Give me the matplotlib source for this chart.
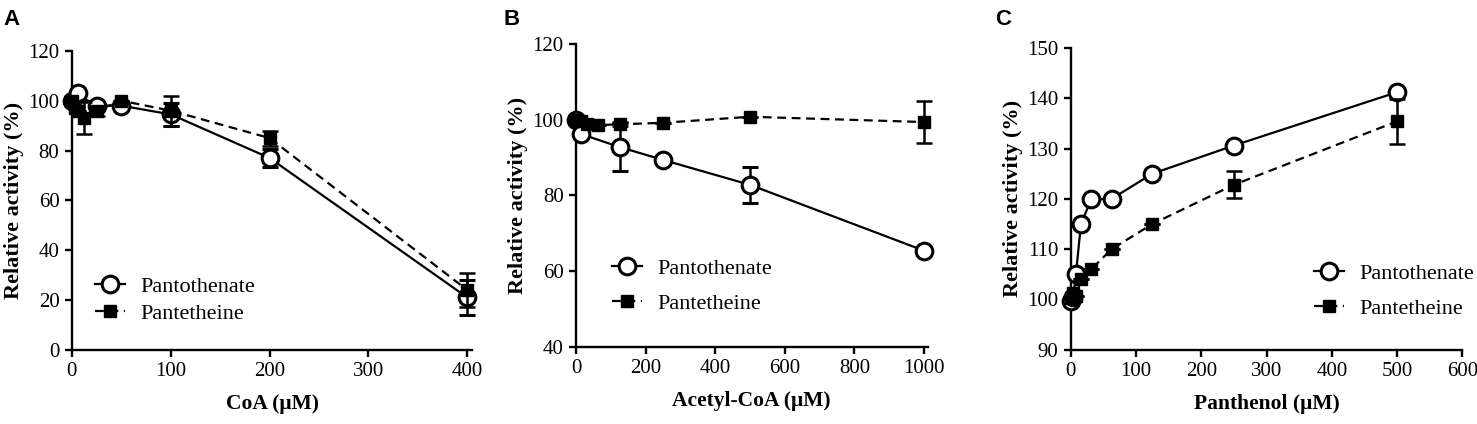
import numpy as np
import matplotlib
matplotlib.use('Agg')
import matplotlib.pyplot as plt
from matplotlib.lines import Line2D

plt.rcParams['font.family'] = 'Liberation Serif'

# ---- panel A: CoA
coa_x = [0, 3.125, 6.25, 12.5, 25, 50, 100, 200, 400]
coa_pantothenate = [100, 99, 103, 97, 98, 98, 94.5, 77, 21]
coa_pantothenate_err = [0, 0, 0, 0, 0, 0, 4.5, 3.5, 7]
coa_pantetheine = [100, 97, 96, 93, 96, 100, 96, 85, 24]
coa_pantetheine_err = [0, 0, 0, 6.5, 2, 0, 6, 3, 7]

# ---- panel B: acetyl-CoA
acoa_x_o = [0, 15.6, 125, 250, 500, 1000]
acoa_pantothenate = [100, 96.2, 92.8, 89.4, 82.8, 65.4]
acoa_pantothenate_err = [0, 0, 6.3, 0, 4.7, 0]
acoa_x_s = [0, 15.6, 31.25, 62.5, 125, 250, 500, 1000]
acoa_pantetheine = [100, 99.6, 99, 98.6, 98.8, 99.2, 100.8, 99.4]
acoa_pantetheine_err = [0, 0, 0, 0, 0.5, 0, 0, 5.6]

# ---- panel C: panthenol
pan_x = [0, 3.9, 7.8, 15.6, 31.25, 62.5, 125, 250, 500]
pan_pantothenate = [99.6, 100.5, 105.1, 115, 119.9, 120, 125, 130.6, 141.2]
pan_pantothenate_err = [0, 0, 0, 0, 0, 0, 0, 0, 0]
pan_pantetheine = [100.3, 101.2, 100.6, 104, 106, 110, 115, 122.8, 135.4]
pan_pantetheine_err = [0, 0, 0, 0, 0, 0, 0, 2.7, 4.4]

panels = [
    dict(letter='A', lx=0.002, rect=[0.0487, 0.175, 0.271, 0.705], xlabel='CoA (\u03bcM)',
         xlim=(0, 405), ylim=(0, 120), xticks=[0, 100, 200, 300, 400],
         yticks=np.arange(0, 121, 20),
         o=(coa_x, coa_pantothenate, coa_pantothenate_err),
         s=(coa_x, coa_pantetheine, coa_pantetheine_err),
         leg=(0.057, 0.167), lsp=0.3),
    dict(letter='B', lx=0.341, rect=[0.390, 0.182, 0.238, 0.714], xlabel='Acetyl-CoA (\u03bcM)',
         xlim=(0, 1010), ylim=(40, 120), xticks=[0, 200, 400, 600, 800, 1000],
         yticks=np.arange(40, 121, 20),
         o=(acoa_x_o, acoa_pantothenate, acoa_pantothenate_err),
         s=(acoa_x_s, acoa_pantetheine, acoa_pantetheine_err),
         leg=(0.102, 0.2), lsp=0.65),
    dict(letter='C', lx=0.674, rect=[0.725, 0.175, 0.265, 0.712], xlabel='Panthenol (\u03bcM)',
         xlim=(0, 600), ylim=(90, 150), xticks=[0, 100, 200, 300, 400, 500, 600],
         yticks=np.arange(90, 151, 10),
         o=(pan_x, pan_pantothenate, pan_pantothenate_err),
         s=(pan_x, pan_pantetheine, pan_pantetheine_err),
         leg=(0.622, 0.194), lsp=0.65),
]

o_style = dict(color='black', ls='-', lw=1.6, marker='o', ms=12,
               mfc='white', mec='black', mew=2.2)
s_style = dict(color='black', ls=(0, (4, 2.5)), lw=1.6, marker='s', ms=8.5,
               mfc='black', mec='black')

fig = plt.figure(figsize=(14.77, 4.24), dpi=100)

for p in panels:
    ax = fig.add_axes(p['rect'])
    x, y, e = p['o']
    ax.errorbar(x, y, yerr=e, capsize=6, capthick=1.8, elinewidth=1.8,
                clip_on=False, zorder=3, **o_style)
    x, y, e = p['s']
    ax.errorbar(x, y, yerr=e, capsize=6, capthick=1.8, elinewidth=1.8,
                clip_on=False, zorder=4, **s_style)

    ax.set_xlim(*p['xlim'])
    ax.set_ylim(*p['ylim'])
    ax.set_xticks(p['xticks'])
    ax.set_yticks(p['yticks'])
    for s in ['top', 'right']:
        ax.spines[s].set_visible(False)
    for s in ['left', 'bottom']:
        ax.spines[s].set_linewidth(1.7)
    ax.tick_params(direction='out', length=5, width=1.7, labelsize=15, pad=4)
    ax.set_xlabel(p['xlabel'], fontsize=15.5, fontweight='bold', labelpad=9)
    ax.set_ylabel('Relative activity (%)', fontsize=16, fontweight='bold', labelpad=3)

    handles = [Line2D([], [], **o_style), Line2D([], [], **s_style)]
    ax.legend(handles, ['Pantothenate', 'Pantetheine'], loc='center left',
              bbox_to_anchor=p['leg'], frameon=False, fontsize=16,
              handlelength=1.35, handletextpad=0.7, borderpad=0,
              borderaxespad=0, labelspacing=p['lsp'], numpoints=1)

    fig.text(p['lx'], 0.955, p['letter'], fontsize=16,
             fontweight='bold', family='Liberation Sans', va='center')

fig.savefig('out.png', dpi=100)
